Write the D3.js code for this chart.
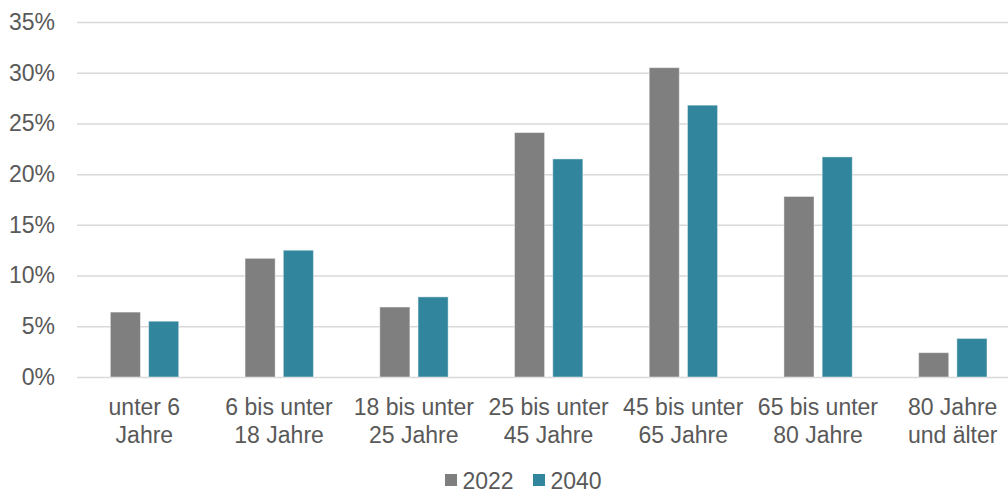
<!DOCTYPE html>
<html>
<head>
<meta charset="utf-8">
<script src="https://cdn.jsdelivr.net/npm/d3@7"></script>
<style>
  html, body { margin: 0; padding: 0; background: #fff; }
  svg { display: block; overflow: hidden; }
  text { font-family: "Liberation Sans", Arial, sans-serif; fill: #595959; }
</style>
</head>
<body>
<div id="container"></div>
<script>
// age groups, two lines per label
const categories = [
  ["unter 6", "Jahre"],
  ["6 bis unter", "18 Jahre"],
  ["18 bis unter", "25 Jahre"],
  ["25 bis unter", "45 Jahre"],
  ["45 bis unter", "65 Jahre"],
  ["65 bis unter", "80 Jahre"],
  ["80 Jahre", "und älter"]
];
const series = ["2022", "2040"];
const values2022 = [6.4, 11.7, 6.9, 24.1, 30.5, 17.8, 2.4];
const values2040 = [5.5, 12.5, 7.9, 21.5, 26.8, 21.7, 3.8];
const yTicks = [0, 5, 10, 15, 20, 25, 30, 35];
const colors = ["#7f7f7f", "#31859c"];

var width = 1008, height = 494;
var margin = { top: 22, left: 77, bottom: 117 };
var plotWidth = 943; // plot runs a bit past the right edge of the picture
var plotBottom = height - margin.bottom;

var svg = d3.select("#container").append("svg")
    .attr("width", width)
    .attr("height", height);

var x0 = d3.scaleBand()
    .domain(d3.range(categories.length))
    .range([margin.left, margin.left + plotWidth])
    .padding(0);

var x1 = d3.scaleBand()
    .domain(series)
    .range([x0.bandwidth() * 0.2475, x0.bandwidth() * 0.755])
    .paddingInner(0.213);

var y = d3.scaleLinear()
    .domain([0, 35])
    .range([plotBottom, margin.top]);

// gridlines + y labels
var yAxis = d3.axisLeft(y)
    .tickValues(yTicks)
    .tickSize(-plotWidth)
    .tickPadding(22)
    .tickFormat(d => d + "%");

var gy = svg.append("g")
    .attr("transform", "translate(" + margin.left + ",0)")
    .call(yAxis);
gy.select(".domain").remove();
gy.selectAll(".tick line")
    .attr("stroke", "#d9d9d9")
    .attr("stroke-width", 1.5);
gy.selectAll(".tick text")
    .style("font-size", "23px")
    .attr("fill", "#595959")
    .attr("font-family", "Liberation Sans, Arial, sans-serif");

// bars
var rows = categories.map((c, i) => ({ i: i, vals: [values2022[i], values2040[i]] }));

var groups = svg.append("g").selectAll("g")
    .data(rows)
    .enter().append("g")
    .attr("transform", d => "translate(" + x0(d.i) + ",0)");

groups.selectAll("rect")
    .data(d => d.vals.map((v, k) => ({ key: series[k], v: v, k: k })))
    .enter().append("rect")
    .attr("x", d => x1(d.key))
    .attr("width", x1.bandwidth())
    .attr("y", d => y(d.v))
    .attr("height", d => y(0) - y(d.v))
    .attr("fill", d => colors[d.k])
    .attr("stroke", "#ffffff")
    .attr("stroke-opacity", 0.45)
    .attr("stroke-width", 1);

// category labels
var labels = svg.append("g").selectAll("text")
    .data(categories)
    .enter().append("text")
    .attr("text-anchor", "middle")
    .style("font-size", "23px")
    .attr("transform", (d, i) => "translate(" + (x0(i) + x0.bandwidth() / 2) + ",415)");

labels.selectAll("tspan")
    .data(d => d)
    .enter().append("tspan")
    .attr("x", 0)
    .attr("y", (d, k) => k * 27.7)
    .text(d => d);

// legend (nudged up slightly so the text is not cut at the bottom edge)
var legendX = [445, 533];
var legend = svg.append("g").selectAll("g")
    .data(series)
    .enter().append("g")
    .attr("transform", (d, i) => "translate(" + legendX[i] + ",474)");

legend.append("rect")
    .attr("width", 12)
    .attr("height", 12)
    .attr("fill", (d, i) => colors[i]);

legend.append("text")
    .attr("x", 17.5)
    .attr("y", 15)
    .style("font-size", "23px")
    .text(d => d);
</script>
</body>
</html>
